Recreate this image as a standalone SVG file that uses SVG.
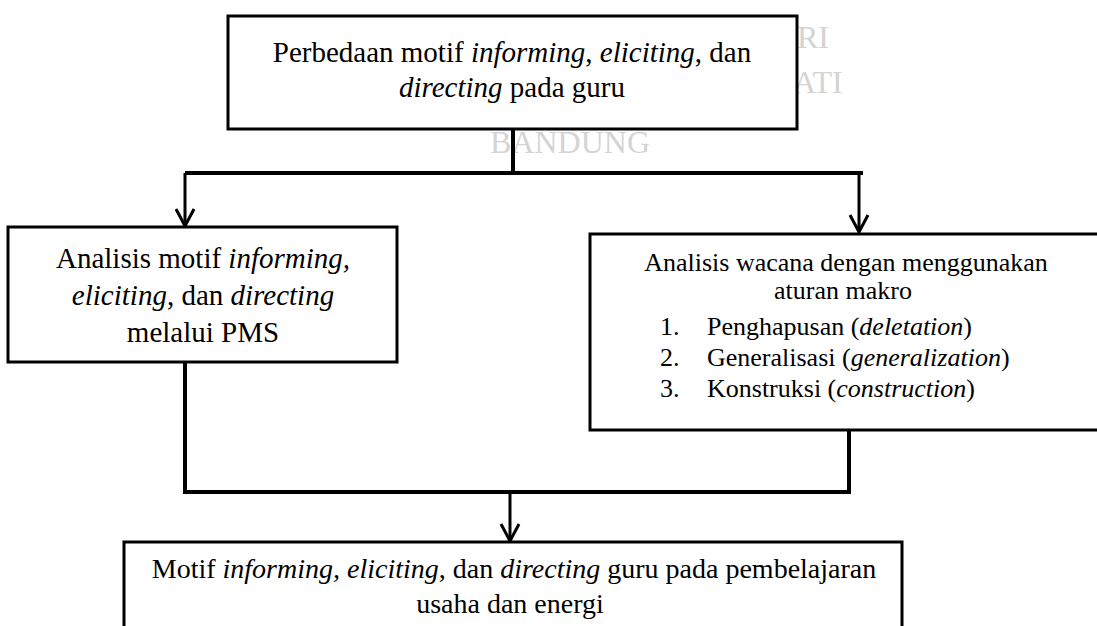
<svg xmlns="http://www.w3.org/2000/svg" width="1097" height="626" viewBox="0 0 1097 626">
<defs>
<style>
.box{fill:#ffffff;stroke:#000000;stroke-width:3}
.ln{fill:none;stroke:#000000;stroke-width:4}
.ar{fill:none;stroke:#000000;stroke-width:3}
.txt{font-family:'Liberation Serif','Times New Roman',serif;fill:#000000}
.it{font-style:italic}
</style>
<marker id="v" markerUnits="userSpaceOnUse" markerWidth="22" markerHeight="22" viewBox="0 0 22 22" refX="19" refY="11" orient="auto">
<path d="M2,2 L19,11 L2,20" fill="none" stroke="#000000" stroke-width="3"/>
</marker>
</defs>
<rect width="1097" height="626" fill="#ffffff"/>
<g id="watermark" class="txt" font-size="32" style="fill:#d4d4d4">
<text x="797" y="48">RI</text>
<text x="793" y="93">ATI</text>
<text x="490" y="153">BANDUNG</text>
</g>
<g id="connectors">
<path class="ln" d="M513,129 V173"/>
<path class="ln" d="M185,173 H863"/>
<path class="ar" d="M185,173 V226" marker-end="url(#v)"/>
<path class="ar" d="M859,173 V232" marker-end="url(#v)"/>
<path class="ln" d="M185,362 V492 H849 V431"/>
<path class="ar" d="M510,492 V541" marker-end="url(#v)"/>
</g>
<g id="node-top" class="txt" font-size="29" text-anchor="middle">
<rect class="box" x="228" y="16" width="569" height="113"/>
<text x="512" y="62">Perbedaan motif <tspan class="it">informing</tspan>, <tspan class="it">eliciting</tspan>, dan</text>
<text x="512" y="97"><tspan class="it">directing</tspan> pada guru</text>
</g>
<g id="node-left" class="txt" font-size="29" text-anchor="middle">
<rect class="box" x="8" y="227" width="389" height="135"/>
<text x="203" y="268">Analisis motif <tspan class="it">informing,</tspan></text>
<text x="203" y="305"><tspan class="it">eliciting</tspan>, dan <tspan class="it">directing</tspan></text>
<text x="203" y="342">melalui PMS</text>
</g>
<g id="node-right" class="txt" font-size="26">
<rect class="box" x="590" y="234" width="512" height="196"/>
<text x="846" y="271" text-anchor="middle">Analisis wacana dengan menggunakan</text>
<text x="843" y="299" text-anchor="middle">aturan makro</text>
<text x="660" y="335">1.</text>
<text x="707" y="335">Penghapusan (<tspan class="it">deletation</tspan>)</text>
<text x="660" y="366">2.</text>
<text x="707" y="366">Generalisasi (<tspan class="it">generalization</tspan>)</text>
<text x="660" y="397">3.</text>
<text x="707" y="397">Konstruksi (<tspan class="it">construction</tspan>)</text>
</g>
<g id="node-bottom" class="txt" font-size="28" text-anchor="middle">
<rect class="box" x="124" y="542" width="778" height="100"/>
<text x="514" y="578">Motif <tspan class="it">informing, eliciting</tspan>, dan <tspan class="it">directing</tspan> guru pada pembelajaran</text>
<text x="510" y="613">usaha dan energi</text>
</g>
</svg>
